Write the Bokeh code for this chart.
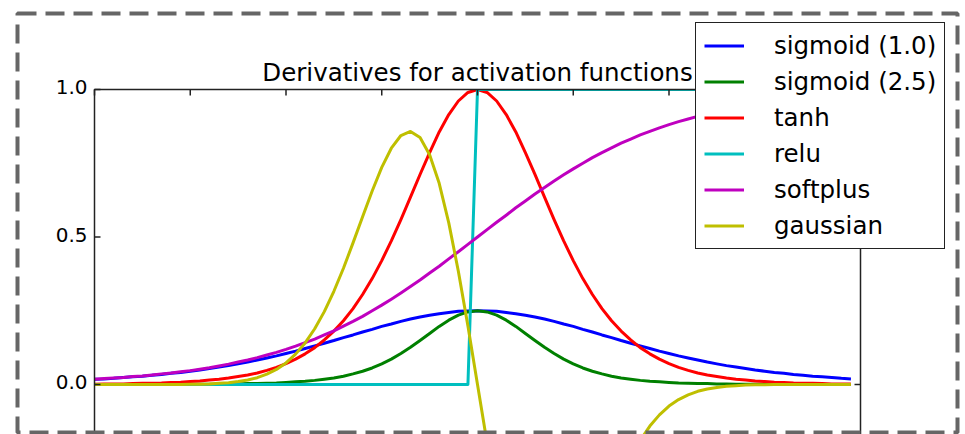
import math

from bokeh.plotting import figure
from bokeh.models import Range1d, BoxAnnotation
from bokeh.core.properties import value
from bokeh.embed import file_html
from bokeh.resources import INLINE

# Sample points on the x axis
x = [-4.0, -3.9, -3.8, -3.7, -3.6, -3.5, -3.4, -3.3, -3.2, -3.1,
     -3.0, -2.9, -2.8, -2.7, -2.6, -2.5, -2.4, -2.3, -2.2, -2.1,
     -2.0, -1.9, -1.8, -1.7, -1.6, -1.5, -1.4, -1.3, -1.2, -1.1,
     -1.0, -0.9, -0.8, -0.7, -0.6, -0.5, -0.4, -0.3, -0.2, -0.1,
     0.0, 0.1, 0.2, 0.3, 0.4, 0.5, 0.6, 0.7, 0.8, 0.9,
     1.0, 1.1, 1.2, 1.3, 1.4, 1.5, 1.6, 1.7, 1.8, 1.9,
     2.0, 2.1, 2.2, 2.3, 2.4, 2.5, 2.6, 2.7, 2.8, 2.9,
     3.0, 3.1, 3.2, 3.3, 3.4, 3.5, 3.6, 3.7, 3.8, 3.9]

sigmoid_1 = [0.018, 0.019, 0.021, 0.024, 0.026, 0.028, 0.031, 0.034, 0.038, 0.041,
             0.045, 0.049, 0.054, 0.059, 0.064, 0.070, 0.076, 0.083, 0.090, 0.097,
             0.105, 0.113, 0.122, 0.131, 0.140, 0.149, 0.159, 0.168, 0.178, 0.187,
             0.197, 0.205, 0.214, 0.222, 0.229, 0.235, 0.240, 0.244, 0.248, 0.249,
             0.250, 0.249, 0.248, 0.244, 0.240, 0.235, 0.229, 0.222, 0.214, 0.205,
             0.197, 0.187, 0.178, 0.168, 0.159, 0.149, 0.140, 0.131, 0.122, 0.113,
             0.105, 0.097, 0.090, 0.083, 0.076, 0.070, 0.064, 0.059, 0.054, 0.049,
             0.045, 0.041, 0.038, 0.034, 0.031, 0.028, 0.026, 0.024, 0.021, 0.019]

sigmoid_25 = [0.000, 0.000, 0.000, 0.000, 0.000, 0.000, 0.000, 0.000, 0.000, 0.000,
              0.001, 0.001, 0.001, 0.001, 0.002, 0.002, 0.003, 0.003, 0.004, 0.005,
              0.007, 0.009, 0.011, 0.014, 0.018, 0.022, 0.028, 0.036, 0.045, 0.056,
              0.070, 0.086, 0.105, 0.126, 0.149, 0.173, 0.197, 0.218, 0.235, 0.246,
              0.250, 0.246, 0.235, 0.218, 0.197, 0.173, 0.149, 0.126, 0.105, 0.086,
              0.070, 0.056, 0.045, 0.036, 0.028, 0.022, 0.018, 0.014, 0.011, 0.009,
              0.007, 0.005, 0.004, 0.003, 0.003, 0.002, 0.002, 0.001, 0.001, 0.001,
              0.001, 0.000, 0.000, 0.000, 0.000, 0.000, 0.000, 0.000, 0.000, 0.000]

tanh_d = [0.001, 0.002, 0.002, 0.002, 0.003, 0.004, 0.004, 0.005, 0.007, 0.008,
          0.010, 0.012, 0.015, 0.018, 0.022, 0.027, 0.032, 0.039, 0.048, 0.058,
          0.071, 0.086, 0.104, 0.125, 0.151, 0.181, 0.216, 0.257, 0.305, 0.359,
          0.420, 0.487, 0.559, 0.635, 0.712, 0.786, 0.856, 0.915, 0.961, 0.990,
          1.000, 0.990, 0.961, 0.915, 0.856, 0.786, 0.712, 0.635, 0.559, 0.487,
          0.420, 0.359, 0.305, 0.257, 0.216, 0.181, 0.151, 0.125, 0.104, 0.086,
          0.071, 0.058, 0.048, 0.039, 0.032, 0.027, 0.022, 0.018, 0.015, 0.012,
          0.010, 0.008, 0.007, 0.005, 0.004, 0.004, 0.003, 0.002, 0.002, 0.002]

relu_x = [-4.0, -0.1, 0.0, 3.9]
relu_d = [0.0, 0.0, 1.0, 1.0]

softplus_d = [0.018, 0.020, 0.022, 0.024, 0.027, 0.029, 0.032, 0.036, 0.039, 0.043,
              0.047, 0.052, 0.057, 0.063, 0.069, 0.076, 0.083, 0.091, 0.100, 0.109,
              0.119, 0.130, 0.142, 0.154, 0.168, 0.182, 0.198, 0.214, 0.231, 0.250,
              0.269, 0.289, 0.310, 0.332, 0.354, 0.378, 0.401, 0.426, 0.450, 0.475,
              0.500, 0.525, 0.550, 0.574, 0.599, 0.622, 0.646, 0.668, 0.690, 0.711,
              0.731, 0.750, 0.769, 0.786, 0.802, 0.818, 0.832, 0.846, 0.858, 0.870,
              0.881, 0.891, 0.900, 0.909, 0.917, 0.924, 0.931, 0.937, 0.943, 0.948,
              0.953, 0.957, 0.961, 0.964, 0.968, 0.971, 0.973, 0.976, 0.978, 0.980]

gaussian_d = [0.000, 0.000, 0.000, 0.000, 0.000, 0.000, 0.000, 0.000, 0.000, 0.000,
              0.001, 0.001, 0.002, 0.004, 0.006, 0.010, 0.015, 0.023, 0.035, 0.051,
              0.073, 0.103, 0.141, 0.189, 0.247, 0.316, 0.394, 0.480, 0.569, 0.656,
              0.736, 0.801, 0.844, 0.858, 0.837, 0.779, 0.682, 0.548, 0.384, 0.198,
              0.000, -0.198, -0.384, -0.548, -0.682, -0.779, -0.837, -0.858, -0.844, -0.801,
              -0.736, -0.656, -0.569, -0.480, -0.394, -0.316, -0.247, -0.189, -0.141, -0.103,
              -0.073, -0.051, -0.035, -0.023, -0.015, -0.010, -0.006, -0.004, -0.002, -0.001,
              -0.001, 0.000, 0.000, 0.000, 0.000, 0.000, 0.000, 0.000, 0.000, 0.000]

x_ticks = [-4, -3, -2, -1, 0, 1, 2, 3, 4]
y_ticks = [0.0, 0.5, 1.0]
y_tick_labels = ["0.0", "0.5", "1.0"]
title_text = "Derivatives for activation functions"

# axes limits and where the axes box sits on the canvas (pixels)
X_LIM = (-4.0, 4.0)
Y_LIM = (-1.0, 1.0)
W, H = 965, 434
AX_L, AX_R, AX_T, AX_B = 94, 860, 89, 679

px_x = (AX_R - AX_L) / (X_LIM[1] - X_LIM[0])
px_y = (AX_B - AX_T) / (Y_LIM[1] - Y_LIM[0])

x_view = (X_LIM[0] - AX_L / px_x, X_LIM[1] + (W - AX_R) / px_x)
y_view = (Y_LIM[1] - (H - AX_T) / px_y, Y_LIM[1] + AX_T / px_y)

FONT = "DejaVu Sans"
SPINE = "#222222"
TICK_LEN = 6
TITLE_PAD = 17.5      # px from axes top to the title anchor
LABEL_GAP = 7         # px from left spine to tick label
LABEL_RAISE = 2.5     # px lift of tick labels against their tick

p = figure(width=W, height=H, output_backend="svg", toolbar_location=None,
           x_range=Range1d(*x_view), y_range=Range1d(*y_view),
           x_axis_type=None, y_axis_type=None, min_border=0)
p.outline_line_color = None
p.grid.visible = False
p.background_fill_color = "white"
p.border_fill_color = "white"

series = [
    (x, sigmoid_1, "#0000ff", "sigmoid (1.0)"),
    (x, sigmoid_25, "#008000", "sigmoid (2.5)"),
    (x, tanh_d, "#ff0000", "tanh"),
    (relu_x, relu_d, "#00bfbf", "relu"),
    (x, softplus_d, "#bf00bf", "softplus"),
    (x, gaussian_d, "#bfbf00", "gaussian"),
]
for xs, ys, color, name in series:
    p.line(xs, ys, line_color=color, line_width=3, line_join="round",
           legend_label=name)

# keep the curves inside the axes box: paint the area outside it white
p.quad(left=[x_view[0], X_LIM[1], x_view[0]],
       right=[X_LIM[0], x_view[1], x_view[1]],
       bottom=[y_view[0], y_view[0], Y_LIM[1]],
       top=[y_view[1], y_view[1], y_view[1]],
       fill_color="white", line_color=None)

# axes box (spines)
p.quad(left=[X_LIM[0]], right=[X_LIM[1]], bottom=[Y_LIM[0]], top=[Y_LIM[1]],
       fill_color=None, line_color=SPINE, line_width=1.5)

# inward ticks on top, left and right spines
p.ray(x=x_ticks, y=[Y_LIM[1]] * len(x_ticks), length=TICK_LEN, length_units="screen",
      angle=-math.pi / 2, line_color=SPINE, line_width=1.5)
p.ray(x=[X_LIM[0]] * len(y_ticks), y=y_ticks, length=TICK_LEN, length_units="screen",
      angle=0, line_color=SPINE, line_width=1.5)
p.ray(x=[X_LIM[1]] * len(y_ticks), y=y_ticks, length=TICK_LEN, length_units="screen",
      angle=math.pi, line_color=SPINE, line_width=1.5)

# y tick labels
p.text(x=[X_LIM[0] - LABEL_GAP / px_x] * len(y_ticks),
       y=[t + LABEL_RAISE / px_y for t in y_ticks], text=y_tick_labels,
       text_align="right", text_baseline="middle",
       text_font=value(FONT), text_font_size=value("20px"), text_color="black")

# title above the axes box
p.text(x=[(X_LIM[0] + X_LIM[1]) / 2], y=[Y_LIM[1] + TITLE_PAD / px_y], text=[title_text],
       text_align="center", text_baseline="alphabetic",
       text_font=value(FONT), text_font_size=value("24.5px"), text_color="black")

lg = p.legend[0]
lg.location = (695, 185)
lg.margin = 0
lg.padding = 8
lg.spacing = 7
lg.glyph_width = 40
lg.glyph_height = 29
lg.label_height = 29
lg.label_standoff = 30
lg.label_text_font = FONT
lg.label_text_font_size = "24.5px"
lg.label_text_color = "black"
lg.border_line_color = SPINE
lg.border_line_width = 1.5
lg.border_line_alpha = 1.0
lg.background_fill_color = "white"
lg.background_fill_alpha = 1.0

# dashed frame around the whole figure
border = BoxAnnotation(left=17, right=957, top=13, bottom=432,
                       left_units="canvas", right_units="canvas",
                       top_units="canvas", bottom_units="canvas",
                       fill_color=None, fill_alpha=0,
                       line_color="#666666", line_alpha=1.0, line_width=4,
                       line_dash="19 9", level="overlay")
p.add_layout(border)

open("out.html", "w").write(file_html(p, INLINE))
